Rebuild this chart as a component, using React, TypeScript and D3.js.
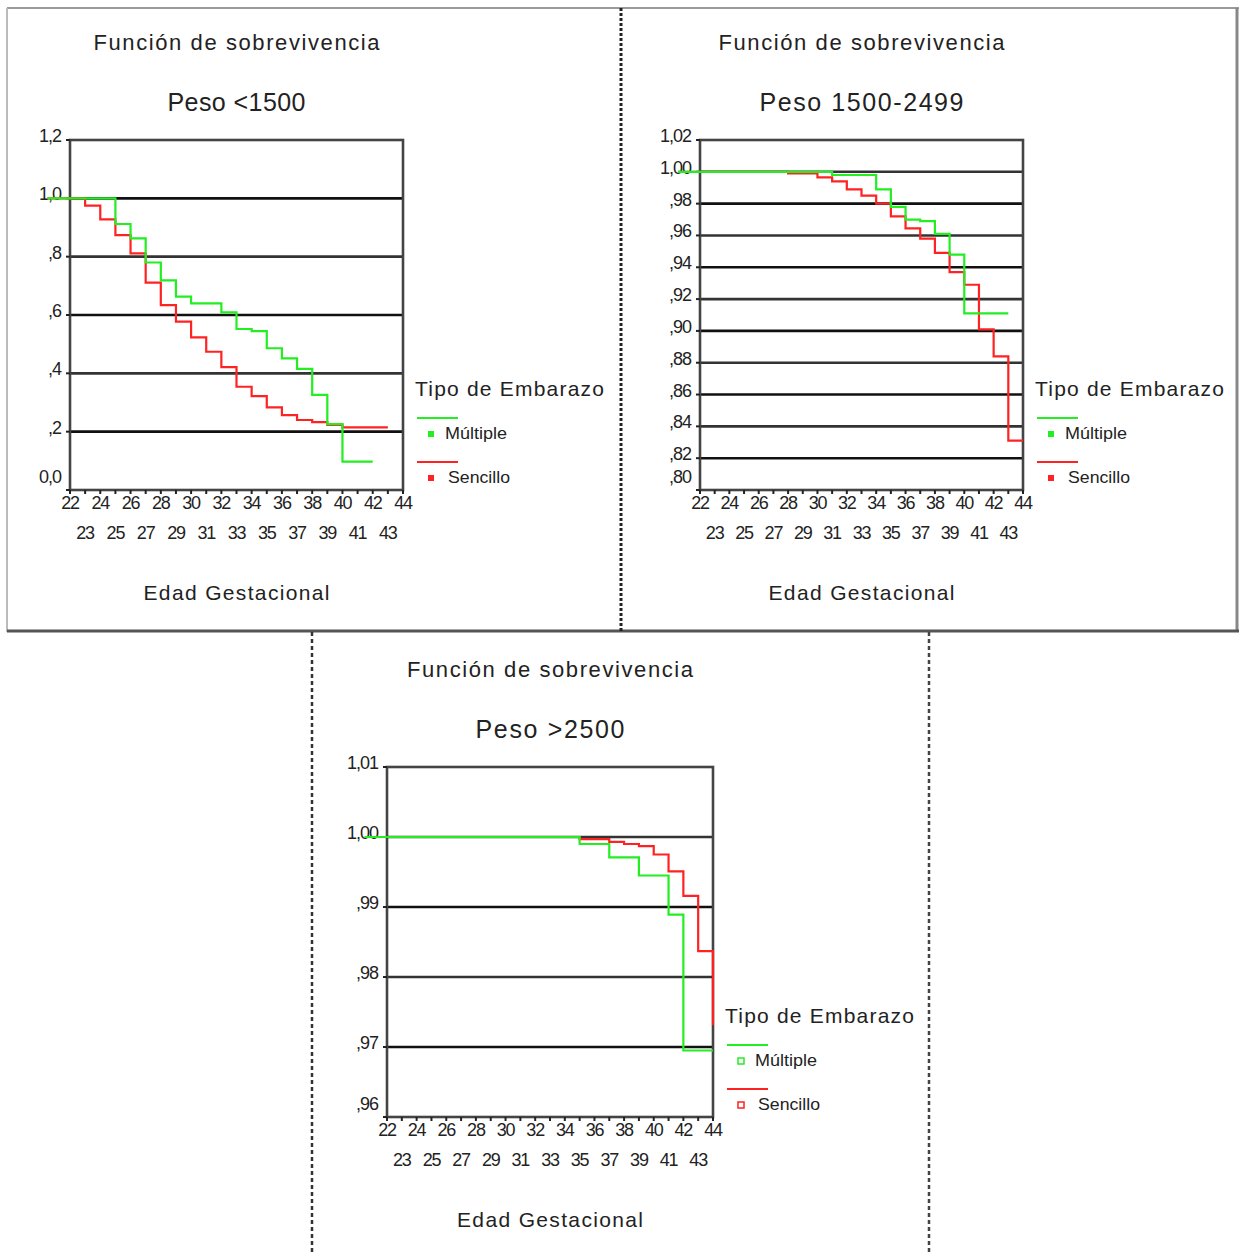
import * as d3 from 'd3'

// Peso <1500
const p1MultT = [20.5, 25, 26, 27, 28, 29, 30, 32, 33, 34, 35, 36, 37, 38, 39, 40, 42]
const p1MultS = [1.0, 0.912, 0.863, 0.78, 0.719, 0.663, 0.64, 0.609, 0.552, 0.545, 0.486, 0.451, 0.415, 0.326, 0.226, 0.097, 0.097]
const p1SencT = [20.5, 23, 24, 25, 26, 27, 28, 29, 30, 31, 32, 33, 34, 35, 36, 37, 38, 39, 40, 43]
const p1SencS = [1.0, 0.975, 0.928, 0.874, 0.811, 0.711, 0.634, 0.577, 0.523, 0.474, 0.421, 0.354, 0.322, 0.283, 0.257, 0.24, 0.233, 0.223, 0.215, 0.215]
const p1Ticks = [0, 0.2, 0.4, 0.6, 0.8, 1.0, 1.2]
const p1Labels = ['0,0', ',2', ',4', ',6', ',8', '1,0', '1,2']

// Peso 1500-2499
const p2MultT = [20.5, 31, 34, 35, 36, 37, 38, 39, 40, 43]
const p2MultS = [1.0, 0.998, 0.989, 0.978, 0.97, 0.969, 0.961, 0.948, 0.911, 0.911]
const p2SencT = [20.5, 28, 30, 31, 32, 33, 34, 35, 36, 37, 38, 39, 40, 41, 42, 43, 44]
const p2SencS = [1.0, 0.999, 0.9965, 0.994, 0.989, 0.985, 0.98, 0.972, 0.9645, 0.958, 0.949, 0.937, 0.929, 0.901, 0.884, 0.831, 0.831]
const p2Ticks = [0.8, 0.82, 0.84, 0.86, 0.88, 0.9, 0.92, 0.94, 0.96, 0.98, 1.0, 1.02]
const p2Labels = [',80', ',82', ',84', ',86', ',88', ',90', ',92', ',94', ',96', ',98', '1,00', '1,02']

// Peso >2500
const p3MultT = [20.5, 35, 37, 39, 41, 42, 44]
const p3MultS = [1.0, 0.999, 0.9971, 0.9945, 0.9889, 0.9695, 0.9695]
const p3SencT = [20.5, 35, 37, 38, 39, 40, 41, 42, 43, 44]
const p3SencS = [1.0, 0.9997, 0.9993, 0.999, 0.9987, 0.9975, 0.9951, 0.9916, 0.9837, 0.9731]
const p3Ticks = [0.96, 0.97, 0.98, 0.99, 1.0, 1.01]
const p3Labels = [',96', ',97', ',98', ',99', '1,00', '1,01']

const edades = d3.range(22, 45)

const GREEN = '#22ee22'
const RED = '#ff2222'
const FONT = '"Liberation Sans", Arial, sans-serif'

function Panel({left, top, w, subtitle, subW, yTicks, yLabels, mult, senc, hollow}) {
  const h = 350
  const x = d3.scaleLinear().domain([22, 44]).range([left, left + w])
  const y = d3.scaleLinear().domain([yTicks[0], yTicks[yTicks.length - 1]]).range([top + h, top])
  const line = d3.line().x(d => x(d[0])).y(d => y(d[1])).curve(d3.curveStepAfter)
  const cx = left + w / 2
  const lx = left + w
  return (
    <g fontFamily={FONT} fill="#222">
      <text x={cx} y={top - 90} fontSize={22} textAnchor="middle" textLength={286} lengthAdjust="spacing">Función de sobrevivencia</text>
      <text x={cx} y={top - 29} fontSize={25} textAnchor="middle" textLength={subW} lengthAdjust="spacing">{subtitle}</text>

      {yTicks.slice(1, -1).map((t, i) => (
        <line key={'g' + i} x1={left} x2={left + w} y1={y(t)} y2={y(t)} stroke={i % 2 ? '#333' : '#111'} strokeWidth={2.6} />
      ))}
      <rect x={left} y={top} width={w} height={h} fill="none" stroke="#444" strokeWidth={2.6} />

      {yTicks.map((t, i) => (
        <g key={'y' + i}>
          <line x1={left - 4} x2={left} y1={y(t)} y2={y(t)} stroke="#222" strokeWidth={2} />
          <text x={left - 9} y={y(t) + (i === 0 ? -7 : 2)} fontSize={18} textAnchor="end" letterSpacing={-1}>{yLabels[i]}</text>
        </g>
      ))}
      {edades.map(e => (
        <g key={'x' + e}>
          <line x1={x(e)} x2={x(e)} y1={top + h} y2={top + h + 4} stroke="#222" strokeWidth={2} />
          <text x={x(e)} y={top + h + (e % 2 === 0 ? 19 : 49)} fontSize={18} textAnchor="middle" letterSpacing={-1.2}>{e}</text>
        </g>
      ))}
      <text x={cx} y={top + h + 110} fontSize={21} textAnchor="middle" textLength={186} lengthAdjust="spacing">Edad Gestacional</text>

      <path d={line(d3.zip(senc[0], senc[1]))} fill="none" stroke={RED} strokeWidth={2.2} />
      <path d={line(d3.zip(mult[0], mult[1]))} fill="none" stroke={GREEN} strokeWidth={2.2} />

      <text x={lx + 12} y={top + 256} fontSize={21} textLength={189} lengthAdjust="spacing">Tipo de Embarazo</text>
      <line x1={lx + 14} x2={lx + 55} y1={top + 278} y2={top + 278} stroke={GREEN} strokeWidth={2} />
      <rect x={lx + 25} y={top + 291} width={6} height={6} fill={hollow ? '#fff' : GREEN} stroke={GREEN} strokeWidth={hollow ? 1.5 : 0} />
      <text x={lx + 42} y={top + 299} fontSize={17} textLength={62} lengthAdjust="spacingAndGlyphs">Múltiple</text>
      <line x1={lx + 14} x2={lx + 55} y1={top + 322} y2={top + 322} stroke={RED} strokeWidth={2} />
      <rect x={lx + 25} y={top + 335} width={6} height={6} fill={hollow ? '#fff' : RED} stroke={RED} strokeWidth={hollow ? 1.5 : 0} />
      <text x={lx + 45} y={top + 343} fontSize={17} textLength={62} lengthAdjust="spacingAndGlyphs">Sencillo</text>
    </g>
  )
}

export default function App() {
  return (
    <svg width={1241} height={1253} style={{position: 'absolute', left: 0, top: 0, background: '#fff'}}>
      <rect x={0} y={0} width={1241} height={1253} fill="#fff" />
      <line x1={7} x2={1239} y1={8} y2={8} stroke="#999" strokeWidth={2} />
      <line x1={7} x2={7} y1={8} y2={632} stroke="#bbb" strokeWidth={2} />
      <line x1={1237} x2={1237} y1={8} y2={631} stroke="#888" strokeWidth={3} />
      <line x1={7} x2={1239} y1={631} y2={631} stroke="#555" strokeWidth={3} />
      <line x1={621} x2={621} y1={8} y2={631} stroke="#222" strokeWidth={3} strokeDasharray="3,2" />
      <line x1={312} x2={312} y1={632} y2={1253} stroke="#333" strokeWidth={2.5} strokeDasharray="4,3" />
      <line x1={929} x2={929} y1={632} y2={1253} stroke="#444" strokeWidth={2.5} strokeDasharray="4,3" />

      <Panel left={70} top={140} w={333} subtitle="Peso <1500" subW={138} yTicks={p1Ticks} yLabels={p1Labels}
        mult={[p1MultT, p1MultS]} senc={[p1SencT, p1SencS]} />
      <Panel left={700} top={140} w={323} subtitle="Peso 1500-2499" subW={204} yTicks={p2Ticks} yLabels={p2Labels}
        mult={[p2MultT, p2MultS]} senc={[p2SencT, p2SencS]} />
      <Panel left={387} top={767} w={326} subtitle="Peso >2500" subW={149} yTicks={p3Ticks} yLabels={p3Labels}
        mult={[p3MultT, p3MultS]} senc={[p3SencT, p3SencS]} hollow />
    </svg>
  )
}
